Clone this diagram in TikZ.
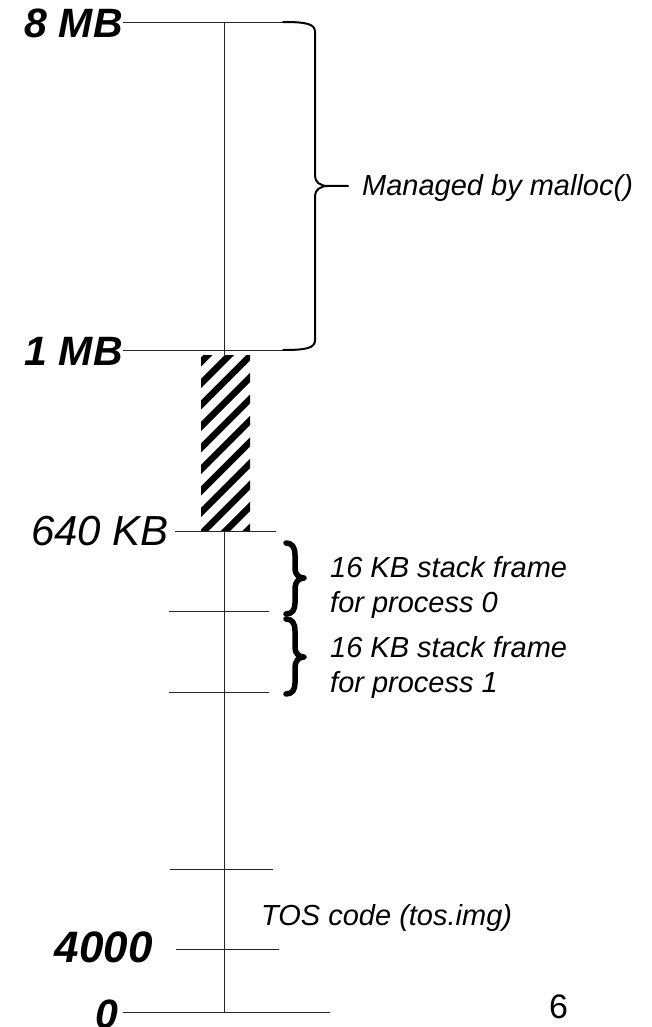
\documentclass[tikz,border=0pt]{standalone}
\usepackage{fontspec}
\setmainfont{Liberation Sans}
\begin{document}
\begin{tikzpicture}[x=1pt,y=-1pt,
  thinline/.style={line width=0.9pt, black!85},
  braceline/.style={line width=2pt, line cap=round, line join=round},
  smallbrace/.style={line width=5.5pt, line cap=round, line join=round},
  addr/.style={inner sep=0pt, anchor=base east, font=\fontsize{41}{44}\selectfont\bfseries\itshape},
  note/.style={inner sep=0pt, anchor=base west, align=left, font=\fontsize{29}{35}\selectfont\itshape}]
\useasboundingbox (0,0) rectangle (652,1027);

% address labels
\node[addr] (l8) at (123,38) {8 MB};
\node[addr] (l1) at (123,365) {1 MB};
\node[addr, font=\fontsize{42}{44}\selectfont\itshape] (l640) at (169,545) {640 KB};
\node[addr, font=\fontsize{44}{46}\selectfont\bfseries\itshape] (l4000) at (153,962) {4000};
\node[addr] (l0) at (119,1028) {0};
\node[inner sep=0pt, anchor=base west, font=\fontsize{34}{40}\selectfont] (pg) at (549,1018) {6};

% coordinates
\coordinate (vtop) at (224,22);
\coordinate (vmid) at (224,355);
\coordinate (vlow) at (224,531);
\coordinate (vbot) at (224,1012);
\coordinate (c8) at (283,22);
\coordinate (c1) at (283,350);
\coordinate (e640) at (276,531);
\coordinate (t1a) at (169,611); \coordinate (t1b) at (269,611);
\coordinate (t2a) at (169,692); \coordinate (t2b) at (269,692);
\coordinate (t3a) at (170,869); \coordinate (t3b) at (273,869);
\coordinate (t4a) at (176,949); \coordinate (t4b) at (279,949);
\coordinate (e0) at (330,1012);
\coordinate (btip) at (348,186);

% axis line
\draw[thinline] (vtop) -- (vmid);
\draw[thinline] (vlow) -- (vbot);

% hatched region
\begin{scope}
  \clip (201,355) rectangle (250,531);
  \foreach \k in {-1,...,10}
    \draw[line width=6.5pt] (190,373+21.5*\k) -- ++(80,-80);
\end{scope}

% horizontal marks
\draw[thinline] (l8.east |- vtop) -- (c8);
\draw[thinline] (l1.east |- c1) -- (c1);
\draw[thinline] ([xshift=6pt]l640.east |- vlow) -- (e640);
\draw[thinline] (t1a) -- (t1b);
\draw[thinline] (t2a) -- (t2b);
\draw[thinline] (t3a) -- (t3b);
\draw[thinline] (t4a) -- (t4b);
\draw[thinline] ([xshift=4pt]l0.east |- vbot) -- (e0);

% big brace
\draw[braceline] (c8) .. controls (307,22) and (315,24) .. (315,32)
  -- (315,176) .. controls (315,182) and (320,186) .. (328,186) -- (btip);
\draw[braceline] (328,186) .. controls (320,186) and (315,190) .. (315,196)
  -- (315,340) .. controls (315,348) and (307,350) .. (c1);

% small braces
\draw[smallbrace] (286,543) .. controls (292,543) and (295,547) .. (295,555)
  -- (295,569) .. controls (295,574) and (299,578) .. (304,578)
  .. controls (299,578) and (295,582) .. (295,588)
  -- (295,603) .. controls (295,610) and (292,614) .. (286,614);
\draw[smallbrace] (286,619) .. controls (292,619) and (295,623) .. (295,631)
  -- (295,648) .. controls (295,653) and (299,657) .. (304,657)
  .. controls (299,657) and (295,661) .. (295,667)
  -- (295,683) .. controls (295,690) and (292,694) .. (286,694);

% notes
\node[note] (mal) at (362,195) {Managed by malloc()};
\node[note] (s0) at (330,612) {16 KB stack frame\\for process 0};
\node[note] (s1) at (330,692) {16 KB stack frame\\for process 1};
\node[note] (tos) at (261,925) {TOS code (tos.img)};
\end{tikzpicture}
\end{document}
